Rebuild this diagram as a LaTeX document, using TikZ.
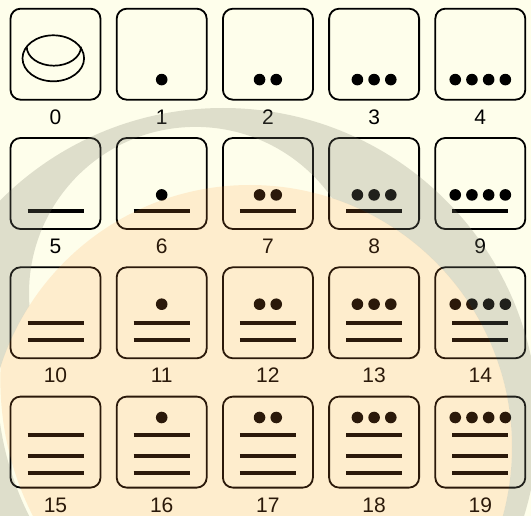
\documentclass[tikz,border=0pt]{standalone}
\usepackage{fontspec}
\setmainfont{Liberation Sans}
\begin{document}
\begin{tikzpicture}[x=1pt,y=1pt,
  cell/.style={draw=black,line width=1.8pt,rounded corners=10pt,minimum width=90pt,minimum height=91pt,inner sep=0pt},
  lbl/.style={font=\fontsize{21}{21}\selectfont,anchor=base,inner sep=0pt},
  barl/.style={line width=4pt},
  dotf/.style={fill=black},
  ringfill/.style={fill=ringgray,opacity=0.25}]
\definecolor{creambg}{RGB}{254,254,235}
\definecolor{ringgray}{RGB}{128,128,110}
\definecolor{orangeov}{RGB}{255,154,60}
% background
\fill[creambg] (0,0) rectangle (531,-516);
\useasboundingbox (0,0) rectangle (531,-516);
% grid of cells
\foreach \n in {0,...,19}{
  \pgfmathtruncatemacro{\col}{mod(\n,5)}
  \pgfmathtruncatemacro{\row}{div(\n,5)}
  \pgfmathsetmacro{\cx}{55.5+106.2*\col}
  \pgfmathsetmacro{\cy}{54.2+129.3*\row}
  \node[cell] (c\n) at (\cx,-\cy) {};
  \node[lbl] (l\n) at ([yshift=-23.5pt]c\n.south) {\n};
}
% glyphs
\newcommand{\dotsrow}[3]{% cell, count, height above bottom
  \foreach \k in {1,...,#2}{
    \fill[dotf] ([xshift={(\k-(#2+1)/2)*16.7pt},yshift=#3pt]#1.south) circle[radius=5.8pt];
  }}
\newcommand{\barat}[2]{% cell, height
  \draw[barl] ([xshift=-28pt,yshift=#2pt]#1.south) -- ([xshift=28pt,yshift=#2pt]#1.south);}
% zero shell
\draw[line width=1.7pt] (53.3,-58.3) ellipse[x radius=30.8,y radius=23];
\draw[line width=1.7pt] (26.7,-46.7) arc[start angle=180,end angle=360,x radius=27.15,y radius=19];
% row 0
\dotsrow{c1}{1}{21}\dotsrow{c2}{2}{21}\dotsrow{c3}{3}{21}\dotsrow{c4}{4}{21}
% row 1
\foreach \n in {5,...,9}{\barat{c\n}{19}}
\dotsrow{c6}{1}{35}\dotsrow{c7}{2}{35}\dotsrow{c8}{3}{35}\dotsrow{c9}{4}{35}
% row 2
\foreach \n in {10,...,14}{\barat{c\n}{19}\barat{c\n}{36}}
\dotsrow{c11}{1}{55}\dotsrow{c12}{2}{55}\dotsrow{c13}{3}{55}\dotsrow{c14}{4}{55}
% row 3
\foreach \n in {15,...,19}{\barat{c\n}{15.6}\barat{c\n}{33}\barat{c\n}{53.3}}
\dotsrow{c16}{1}{71}\dotsrow{c17}{2}{71}\dotsrow{c18}{3}{71}\dotsrow{c19}{4}{71}
% overlays: grey crescent (outside the orange disc)
\begin{scope}[even odd rule]
\clip (-10,10) rectangle (541,-526) (250,-447) circle[radius=262];
\fill[ringfill] (223,-423) circle[radius=315] (195.5,-293.4) circle[radius=166.5];
\end{scope}
\begin{scope}[even odd rule]
\clip (250,-447) circle[radius=262];
\clip (-10,10) rectangle (541,-526) (300,-380) circle[radius=303];
\fill[ringfill] (223,-423) circle[radius=315] (195.5,-293.4) circle[radius=166.5];
\end{scope}
% orange disc
\begin{scope}
\clip (300,-380) circle[radius=299.6];
\fill[orangeov,opacity=0.17] (250,-447) circle[radius=262];
\end{scope}
\end{tikzpicture}
\end{document}
